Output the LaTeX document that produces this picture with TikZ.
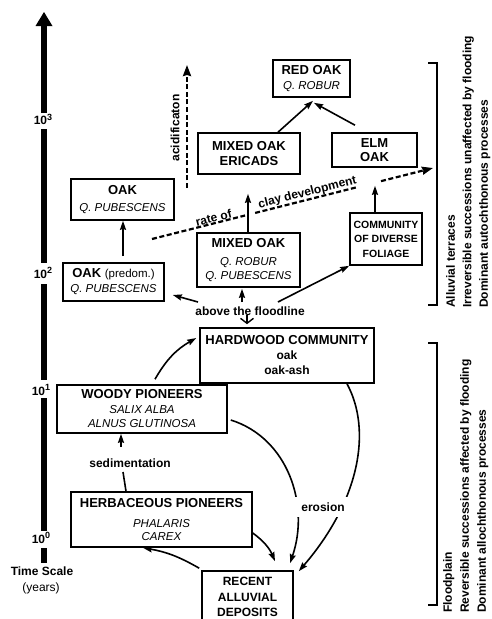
\documentclass[tikz,border=0pt]{standalone}
\usepackage{fontspec}
\setmainfont{Liberation Sans}
\usetikzlibrary{arrows.meta,calc}
\newcommand\boxit{\fontsize{11.5}{15}\selectfont\mdseries\itshape}
\newcommand\boxreg{\fontsize{11.5}{15}\selectfont\mdseries}
\newcommand\boxsm{\fontsize{12}{15}\selectfont}
\newcommand\tenpow[1]{10\raisebox{4.5pt}{\fontsize{9}{10}\selectfont #1}}
\begin{document}
\begin{tikzpicture}[x=1pt,y=-1pt,
  box/.style={draw, line width=1.6pt, inner sep=0pt, align=center, font=\fontsize{13}{15}\selectfont\bfseries},
  conn/.style={line width=1.6pt, -{Stealth[length=9pt,width=6pt,inset=1pt]}},
  plainline/.style={line width=1.6pt},
  vtip/.style={line width=1.4pt, -{Straight Barb[length=5pt,width=13pt]}},
  dashline/.style={line width=2.2pt, dash pattern=on 5pt off 2.6pt},
  dasharrow/.style={dashline, -{Stealth[length=11pt,width=8pt,inset=1pt]}},
  lbl/.style={font=\fontsize{12}{14}\selectfont\bfseries, inner sep=1pt},
  axlbl/.style={font=\fontsize{12}{14}\selectfont\bfseries, inner sep=0pt, anchor=base},
  axisline/.style={line width=6pt},
  bracketline/.style={line width=2pt},
  sidetxt/.style={rotate=90, align=left, inner sep=0pt, anchor=north west, font=\fontsize{12}{16.5}\selectfont\bfseries},
]
\fill[white] (0,0) rectangle (491,619);
\useasboundingbox (0,0) rectangle (491,619);

% time axis
\draw[axisline, -{Triangle[length=14pt,width=17pt,line width=0pt]}] (44,113) -- (44,12);
\draw[axisline] (44,129) -- (44,263);
\draw[axisline] (44,284) -- (44,380);
\draw[axisline] (44,398) -- (44,531);
\draw[axisline] (44,548) -- (44,563);
\node[axlbl] (t3) at (43,124.5) {\tenpow{3}};
\node[axlbl] (t2) at (43,278) {\tenpow{2}};
\node[axlbl] (t1) at (41,395) {\tenpow{1}};
\node[axlbl] (t0) at (41,543) {\tenpow{0}};
\node[axlbl] (timescale) at (42,575) {Time Scale};
\node[axlbl, font=\fontsize{12}{14}\selectfont] (years) at (41,591) {(years)};

% boxes
\node[box, minimum width=77pt, minimum height=37pt] (redoak) at (311.5,78.5) {RED OAK\\{\boxit Q. ROBUR}};
\node[box, minimum width=102pt, minimum height=41pt] (ericads) at (249,153.5) {MIXED OAK\\ERICADS};
\node[box, minimum width=85pt, minimum height=34pt] (elm) at (374.5,150) {ELM\\[-1pt]OAK};
\node[box, minimum width=103pt, minimum height=41pt] (oakpub) at (122.5,199.5) {OAK\\[2pt]{\boxit Q. PUBESCENS}};
\node[box, minimum width=103pt, minimum height=54pt] (mixed) at (248.5,260) {MIXED OAK\\[3pt]{\boxit Q. ROBUR}\\[-1pt]{\boxit Q. PUBESCENS}};
\node[box, minimum width=72pt, minimum height=52pt, font=\fontsize{10.5}{14.5}\selectfont\bfseries] (community) at (386,239) {COMMUNITY\\OF DIVERSE\\FOLIAGE};
\node[box, minimum width=101pt, minimum height=38pt] (oakpred) at (113.5,282) {OAK {\boxreg (predom.)}\\{\boxit Q. PUBESCENS}};
\node[box, minimum width=174pt, minimum height=55pt] (hardwood) at (287,355.5) {HARDWOOD COMMUNITY\\{\boxsm oak}\\{\boxsm oak-ash}};
\node[box, minimum width=170pt, minimum height=48pt] (woody) at (142,409) {WOODY PIONEERS\\{\boxit SALIX ALBA}\\[-1pt]{\boxit ALNUS GLUTINOSA}};
\node[box, minimum width=181pt, minimum height=55pt] (herb) at (161.5,519.5) {HERBACEOUS PIONEERS\\[5pt]{\boxit PHALARIS}\\[-2pt]{\boxit CAREX}};
\node[box, minimum width=91pt, minimum height=52pt, font=\fontsize{12}{15}\selectfont\bfseries] (recent) at (247.5,597) {RECENT\\[1pt]ALLUVIAL\\DEPOSITS};

% labels
\node[lbl] (floodline) at (250,311) {above the floodline};
\node[lbl] (sed) at (130,463) {sedimentation};
\node[lbl, rotate=90] (acid) at (175,128) {acidificaton};

% connectors in the upper part
\draw[conn] ([xshift=29pt]ericads.north) -- ([xshift=1.5pt,yshift=-3pt]redoak.south);
\draw[conn] ([xshift=-19.5pt,yshift=7pt]elm.north) -- ([xshift=2.5pt,yshift=-5pt]redoak.south);
\draw[conn] ([xshift=-0.5pt]mixed.north) -- ([xshift=-1pt,yshift=-19pt]ericads.south);
\draw[conn] ([xshift=-11pt]community.north) -- ([xshift=0.5pt,yshift=-18pt]elm.south);
\draw[conn] ([xshift=9.5pt,yshift=6pt]oakpred.north) -- ([xshift=0.5pt]oakpub.south);
\draw[conn] ([xshift=-52pt,yshift=9pt]floodline.center) -- ([xshift=8pt,yshift=-13pt]oakpred.east);
\draw[conn] ([xshift=-8pt,yshift=9pt]floodline.center) -- ([xshift=-6.5pt,yshift=-1pt]mixed.south);
\draw[conn] ([xshift=28pt,yshift=9pt]floodline.center) -- (community.south west);
\draw[vtip] ([xshift=-3pt,yshift=-4pt]floodline.center) -- ([xshift=-40pt,yshift=3pt]hardwood.north);

% dashed trends
\coordinate (ac1) at (187,188);
\coordinate (ac2) at (187,65);
\draw[dasharrow] (ac1) -- (ac2);
\coordinate (cs) at (152,239);
\coordinate (ce) at (433,168);
\draw[dashline] (cs) -- ($(cs)!0.331!(ce)$);
\draw[dashline] ($(cs)!0.367!(ce)$) -- ($(cs)!0.73!(ce)$);
\draw[dasharrow] ($(cs)!0.815!(ce)$) -- (ce);
\path (cs) -- (ce)
  node[lbl, pos=0.224, sloped, above] (rateof) {rate of}
  node[lbl, pos=0.559, sloped, above] (clay) {clay development};

% lower part
\draw[conn] ([xshift=13pt,yshift=5pt]woody.north) to[bend left=15] ([xshift=-3pt,yshift=17.5pt]hardwood.west);
\draw[plainline] ([xshift=-35.5pt]herb.north) -- ([xshift=-7pt,yshift=-9pt]sed.center);
\draw[conn] ([xshift=-9pt,yshift=16pt]sed.center) -- ([xshift=-21pt]woody.south);
\draw[conn] ([xshift=3pt,yshift=-11pt]woody.east) .. controls (288,438) and (310,505) .. ([xshift=42.5pt,yshift=7pt]recent.north);
\draw[conn] ([xshift=60pt]hardwood.south) .. controls (372,430) and (360,500) .. ([xshift=5pt,yshift=-1pt]recent.north east);
\draw[conn] ([yshift=-13.5pt]herb.east) to[bend left=15] ([xshift=27.5pt,yshift=9pt]recent.north);
\draw[conn] ([xshift=-2pt,yshift=2pt]recent.north west) to[bend right=10] ([xshift=-18.5pt]herb.south);
\node[lbl, fill=white, inner xsep=7pt, inner ysep=6pt] (eros) at (323,507) {erosion};

% brackets and side texts
\draw[bracketline] (428,63) -- (437,63) -- (437,305) -- (428,305);
\draw[bracketline] (428,343) -- (437,343) -- (437,605) -- (428,605);
\node[sidetxt] (terr) at (446,308) {Alluvial terraces\\Irreversible successions unaffected by flooding\\Dominant autochthonous processes};
\node[sidetxt, font=\fontsize{12}{17}\selectfont\bfseries] (flood) at (443,613) {Floodplain\\Reversible successions affected by flooding\\Dominant allochthonous processes};
\end{tikzpicture}
\end{document}
